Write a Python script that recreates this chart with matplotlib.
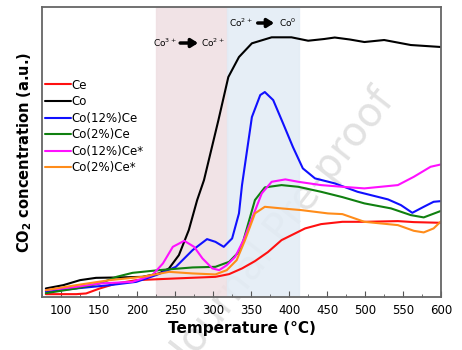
import matplotlib.pyplot as plt
import numpy as np

# readings from the picture (y in arbitrary units)
t_co = [80, 103, 125, 146, 177, 207, 229, 242, 255, 268, 279, 288, 307, 320, 334, 351, 377, 403, 425, 446, 460, 480, 499, 525, 560, 600]
co = [8.7, 12, 17, 19.3, 19.7, 20.3, 23.7, 28.7, 42, 67, 97, 117, 177, 220, 240, 253.7, 259.7, 259.7, 256.3, 258, 259.5, 257.5, 255, 257, 252, 250]

t_c12 = [80, 120, 164, 199, 225, 251, 273, 292, 303, 314, 325, 334, 338, 351, 362, 368, 379, 392, 405, 418, 434, 460, 490, 530, 547, 562, 577, 590, 600]
c12 = [5.3, 8.7, 12, 15.3, 22, 30.3, 47, 58, 55.3, 50.3, 58.7, 83.7, 112, 180, 202, 205, 197, 173.7, 150, 128.7, 118.7, 113.7, 105.3, 97.7, 92, 84.3, 90.3, 95.3, 96]

t_c2 = [80, 120, 151, 173, 194, 229, 273, 303, 321, 334, 340, 355, 368, 390, 412, 442, 470, 499, 534, 560, 577, 600]
c2 = [4, 8.7, 13.7, 20.3, 24.3, 27, 29.7, 30.3, 35.3, 45.3, 57, 97, 109.7, 112, 110.3, 105.3, 100, 93.7, 88.7, 82, 79.7, 86.3]

t_c12s = [80, 120, 151, 194, 220, 234, 247, 262, 275, 286, 299, 308, 318, 329, 340, 364, 377, 395, 412, 442, 470, 499, 543, 564, 586, 600]
c12s = [7, 10.3, 13.7, 15.3, 22, 33.7, 50.3, 56.3, 50.3, 38.7, 28.7, 27, 32, 40.3, 57, 103.7, 115.3, 117.7, 115.3, 112, 110.3, 108.7, 112, 120.3, 130.3, 132.7]

t_c2s = [80, 120, 164, 207, 242, 273, 303, 318, 331, 342, 355, 368, 390, 416, 451, 470, 499, 543, 564, 577, 590, 600]
c2s = [7, 12, 17, 20.3, 25.3, 23.7, 22.7, 27, 37, 57, 83.7, 90.3, 88.7, 87, 83.7, 83, 75.3, 72, 66.3, 64.7, 68.7, 76]

t_ce = [80, 120, 133, 151, 173, 199, 251, 303, 321, 338, 355, 372, 390, 421, 442, 470, 499, 543, 564, 600]
ce = [3, 3, 3.7, 8.7, 13.7, 17, 18.7, 20.3, 23, 28.7, 36, 45, 57, 68.7, 73, 75.3, 75.3, 76, 75, 74.3]

fig, ax = plt.subplots(figsize=(4.62, 3.5), dpi=100)
fig.subplots_adjust(left=0.091, right=0.955, top=0.98, bottom=0.151)
ax.patch.set_alpha(0)

# watermark, behind the axes
fig.text(0.615, 0.35, "Journal Pre-proof", fontsize=29, color="#e2e2e2",
         rotation=52, ha="center", va="center", zorder=-1)

ax.axvspan(225, 318, color="#efdfe2", alpha=0.85, zorder=0)
ax.axvspan(318, 413, color="#e2ecf5", alpha=0.85, zorder=0)

kw = dict(lw=1.5, solid_joinstyle="round", solid_capstyle="round")
ax.plot(t_ce, ce, color="#ff1010", label="Ce", **kw)
ax.plot(t_co, co, color="black", label="Co", **kw)
ax.plot(t_c12, c12, color="#1010ff", label="Co(12%)Ce", **kw)
ax.plot(t_c2, c2, color="#108010", label="Co(2%)Ce", **kw)
ax.plot(t_c12s, c12s, color="#ff10ff", label="Co(12%)Ce*", **kw)
ax.plot(t_c2s, c2s, color="#ff8c1a", label="Co(2%)Ce*", **kw)

ax.set_xlim(80, 600)
ax.set_ylim(0, 290)
ax.set_yticks([])
ax.set_xticks(np.arange(100, 601, 50))
ax.set_xticks(np.arange(75, 601, 25), minor=True)
ax.tick_params(axis="x", direction="in", labelsize=8.5, length=4, pad=5, color="#555555")
ax.tick_params(axis="x", which="minor", direction="in", length=2, color="#555555")
for s in ax.spines.values():
    s.set_color("#666666")
    s.set_linewidth(1.3)

ax.set_xlabel("Temperature (°C)", fontsize=11, fontweight="bold", labelpad=3)
ax.set_ylabel("CO$_\\mathbf{2}$ concentration (a.u.)", fontsize=10.5, fontweight="bold", labelpad=6)

ax.legend(loc="upper left", bbox_to_anchor=(-0.02, 0.79), frameon=False, fontsize=8.5,
          handlelength=2.2, handletextpad=0.1, labelspacing=0.3)

# transition labels
arrow = dict(arrowstyle="-|>,head_width=0.25,head_length=0.4", lw=2.5, color="black")
ax.text(236, 254, "Co$^{3+}$", fontsize=6.5, ha="center", va="center")
ax.annotate("", xy=(284, 254), xytext=(253, 254), arrowprops=arrow)
ax.text(300, 254, "Co$^{2+}$", fontsize=6.5, ha="center", va="center")
ax.text(337, 274, "Co$^{2+}$", fontsize=6.5, ha="center", va="center")
ax.annotate("", xy=(384, 274), xytext=(355, 274), arrowprops=arrow)
ax.text(398, 274, "Co$^{0}$", fontsize=6.5, ha="center", va="center")

fig.savefig("out.png", dpi=100)
